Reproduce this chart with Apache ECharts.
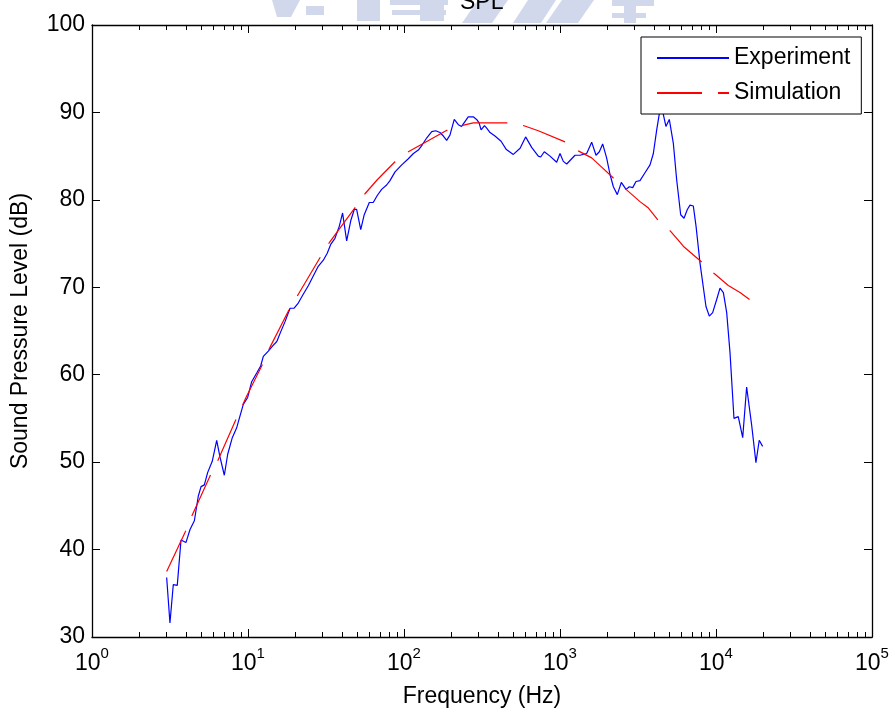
<!DOCTYPE html>
<html>
<head>
<meta charset="utf-8">
<script src="https://cdn.jsdelivr.net/npm/echarts@6/dist/echarts.min.js"></script>
<style>html,body{margin:0;padding:0;background:#fff}#c{width:895px;height:713px}</style>
</head>
<body>
<div id="c"></div>
<script>
// ---- data ----
const freqExp = [3.01,3.16,3.32,3.52,3.72,4.00,4.25,4.53,4.80,5.00,5.25,5.51,5.90,6.30,6.61,7.05,7.41,7.93,8.45,8.89,9.33,9.95,10.56,11.37,12.05,12.54,13.5,14.4,15.3,16.2,17.3,18.6,19.7,21.0,22.6,24.4,26.2,28.2,30.4,32.2,33.9,36.1,38.5,40.4,42.9,45.7,48.0,49.7,52.8,55.6,59.9,63.5,67.4,71.9,77.4,81.3,87.6,96.7,106.6,114.9,123.6,131,140,150.6,159.7,170,178.8,187.7,197,210,223,234,249,258,278,292,303,312,328,339,356,383,419,451,502,555,602,658,726,752,793,863,952,1000,1050,1104,1248,1343,1483,1596,1702,1787,1877,1990,2093,2198,2330,2472,2650,2782,2925,3070,3257,3506,3776,3966,4168,4437,4776,5019,5325,5596,5938,6237,6550,6813,7156,7448,7893,8625,9060,9520,10100,10610,11150,11710,12300,13040,13890,14830,15720,16910,18030,18930,19890];
const splExp = [36.8,31.6,36.0,35.9,41.1,40.8,42.3,43.3,46.1,47.2,47.4,48.8,50.1,52.5,50.6,48.5,50.9,52.8,53.9,55.3,56.6,57.4,59.2,60.2,61.0,62.1,62.7,63.3,63.8,64.9,66.1,67.6,67.6,68.2,69.2,70.2,71.3,72.4,73.1,73.9,74.9,75.6,77.0,78.5,75.3,77.7,78.9,78.9,76.6,78.3,79.7,79.7,80.5,81.2,81.7,82.2,83.2,84.0,84.7,85.3,85.7,86.3,87.1,87.8,87.9,87.7,87.3,86.8,87.4,89.2,88.6,88.4,89.1,89.5,89.5,89.2,88.8,88.0,88.5,88.2,87.7,87.3,86.7,85.8,85.2,85.9,87.2,86.0,85.0,84.9,85.5,85.0,84.3,85.3,84.4,84.1,85.1,85.1,85.3,86.6,85.1,85.5,86.4,84.8,82.9,81.5,80.6,82.0,81.2,81.5,81.4,82.1,82.2,83.1,84.0,85.3,88.0,91.0,88.4,89.2,86.5,82.3,78.3,77.9,78.9,79.4,79.3,77.0,72.8,67.8,66.7,67.1,68.6,69.9,69.4,67.1,62.5,55.0,55.2,52.8,58.6,54.3,49.95,52.5,51.8];
const freqSim = [3.01,3.98,4.35,5.70,6.37,8.33,9.22,9.71,12.4,13.8,18.4,20.7,29.2,33.2,49.2,56.2,67.4,90.2,106.6,190.5,234,278,467,582,726,1087,1310,1596,1850,2198,2650,3257,3670,4266,5119,5818,6168,8089,9703,11990,14260,16680];
const splSim = [37.5,42.1,43.8,48.4,50.1,54.8,56.5,57.4,61.2,63.1,67.5,69.0,73.5,75.1,79.25,80.7,82.3,84.6,85.5,88.0,88.5,88.8,88.8,88.5,87.9,86.6,85.6,84.8,83.75,82.5,81.2,79.8,79.1,77.65,76.4,75.25,74.7,72.9,71.6,70.2,69.4,68.5];
const seriesNames = ['Experiment', 'Simulation'];
const titleText = 'SPL';
const xName = 'Frequency (Hz)';
const yName = 'Sound Pressure Level (dB)';
const yMin = 30, yMax = 100, yStep = 10;
const xMin = 1, xMax = 100000;
const xMinorTicks = [];
for (let k = 0; k < 5; k++) for (let m = 2; m <= 9; m++) xMinorTicks.push(m * Math.pow(10, k));

const FF = '"Liberation Sans", Arial, Helvetica, sans-serif';
const chart = echarts.init(document.getElementById('c'), null, {renderer: 'canvas'});

function zip(a, b) { return a.map((v, i) => [v, b[i]]); }

const axisLineStyle = {color: '#000', width: 1.3};
function majorX(pos, showLabel) {
  return {
    type: 'log', logBase: 10, min: xMin, max: xMax, position: pos,
    axisLine: {show: true, lineStyle: axisLineStyle},
    axisTick: {show: true, inside: true, length: 8, lineStyle: {color: '#000', width: 1}},
    minorTick: {show: false},
    splitLine: {show: false},
    axisLabel: showLabel ? {
      show: true, margin: 9, color: '#000',
      formatter: function (v) { return '{b|10}{s|' + Math.round(Math.log10(v)) + '}'; },
      rich: {
        b: {fontSize: 23, fontFamily: FF, color: '#000', lineHeight: 36},
        s: {fontSize: 15, fontFamily: FF, color: '#000', lineHeight: 14, verticalAlign: 'top'}
      }
    } : {show: false},
    name: showLabel ? xName : '', nameLocation: 'middle', nameGap: 48,
    nameTextStyle: {fontSize: 23, fontFamily: FF, color: '#000'}
  };
}
function minorX(pos) {
  return {
    type: 'log', logBase: 10, min: xMin, max: xMax, position: pos,
    axisLine: {show: false},
    axisTick: {show: true, inside: true, length: 5, customValues: xMinorTicks, lineStyle: {color: '#000', width: 1}},
    axisLabel: {show: false}, splitLine: {show: false}, minorTick: {show: false}
  };
}
function yAx(pos, showLabel) {
  return {
    type: 'value', min: yMin, max: yMax, interval: yStep, position: pos,
    axisLine: {show: true, lineStyle: axisLineStyle},
    axisTick: {show: true, inside: true, length: 8, lineStyle: {color: '#000', width: 1}},
    splitLine: {show: false},
    axisLabel: showLabel ? {show: true, margin: 7, fontSize: 23, fontFamily: FF, color: '#000'} : {show: false},
    name: showLabel ? yName : '', nameLocation: 'middle', nameGap: 60, nameRotate: 90,
    nameTextStyle: {fontSize: 23, fontFamily: FF, color: '#000'}
  };
}

// faint watermark logo strip above the axes (decoration only)
const WM = '#d2d8ec';
function poly(pts) { return {type: 'polygon', z: -10, silent: true, shape: {points: pts}, style: {fill: WM}}; }
const watermark = [
  poly([[272,0],[300,0],[291,17],[277,17]]),
  poly([[306,6],[324,6],[324,15],[306,15]]),
  poly([[357,0],[380,0],[380,21],[357,21]]),
  poly([[390,0],[448,0],[448,5],[390,5]]),
  poly([[392,10],[446,10],[446,15],[392,15]]),
  poly([[420,0],[444,0],[444,21],[420,21]]),
  poly([[478,0],[508,0],[492,23],[462,23]]),
  poly([[528,0],[556,0],[541,23],[513,23]]),
  poly([[562,0],[594,0],[578,23],[546,23]]),
  poly([[612,0],[654,0],[654,6],[612,6]]),
  poly([[624,0],[636,0],[636,23],[624,23]]),
  poly([[612,13],[646,13],[646,18],[612,18]])
];

chart.setOption({
  animation: false,
  backgroundColor: '#fff',
  graphic: watermark,
  title: {text: titleText, left: 460, top: -9, padding: 0, z: 10,
    textStyle: {fontSize: 23, fontWeight: 'normal', fontFamily: FF, color: '#000'}},
  grid: {left: 92, right: 23, top: 25, bottom: 75, containLabel: false},
  xAxis: [majorX('bottom', true), majorX('top', false), minorX('bottom'), minorX('top')],
  yAxis: [yAx('left', true), yAx('right', false)],
  legend: {
    data: seriesNames, orient: 'vertical', left: 641, top: 37,
    padding: [9, 11, 9, 15], itemGap: 11, itemWidth: 72, itemHeight: 14,
    backgroundColor: '#fff', borderColor: '#000', borderWidth: 1, borderRadius: 0,
    z: 20,
    itemStyle: {opacity: 0},
    textStyle: {fontSize: 23, fontFamily: FF, color: '#000', lineHeight: 24}
  },
  series: [
    {name: seriesNames[0], type: 'line', data: zip(freqExp, splExp), symbol: 'none',
      lineStyle: {color: '#0000ff', width: 1.2}, itemStyle: {color: '#0000ff'}, z: 3},
    {name: seriesNames[1], type: 'line', data: zip(freqSim, splSim), symbol: 'none',
      lineStyle: {color: '#ff0000', width: 1.2, type: [45, 16]}, itemStyle: {color: '#ff0000'}, z: 4}
  ]
});
</script>
</body>
</html>
